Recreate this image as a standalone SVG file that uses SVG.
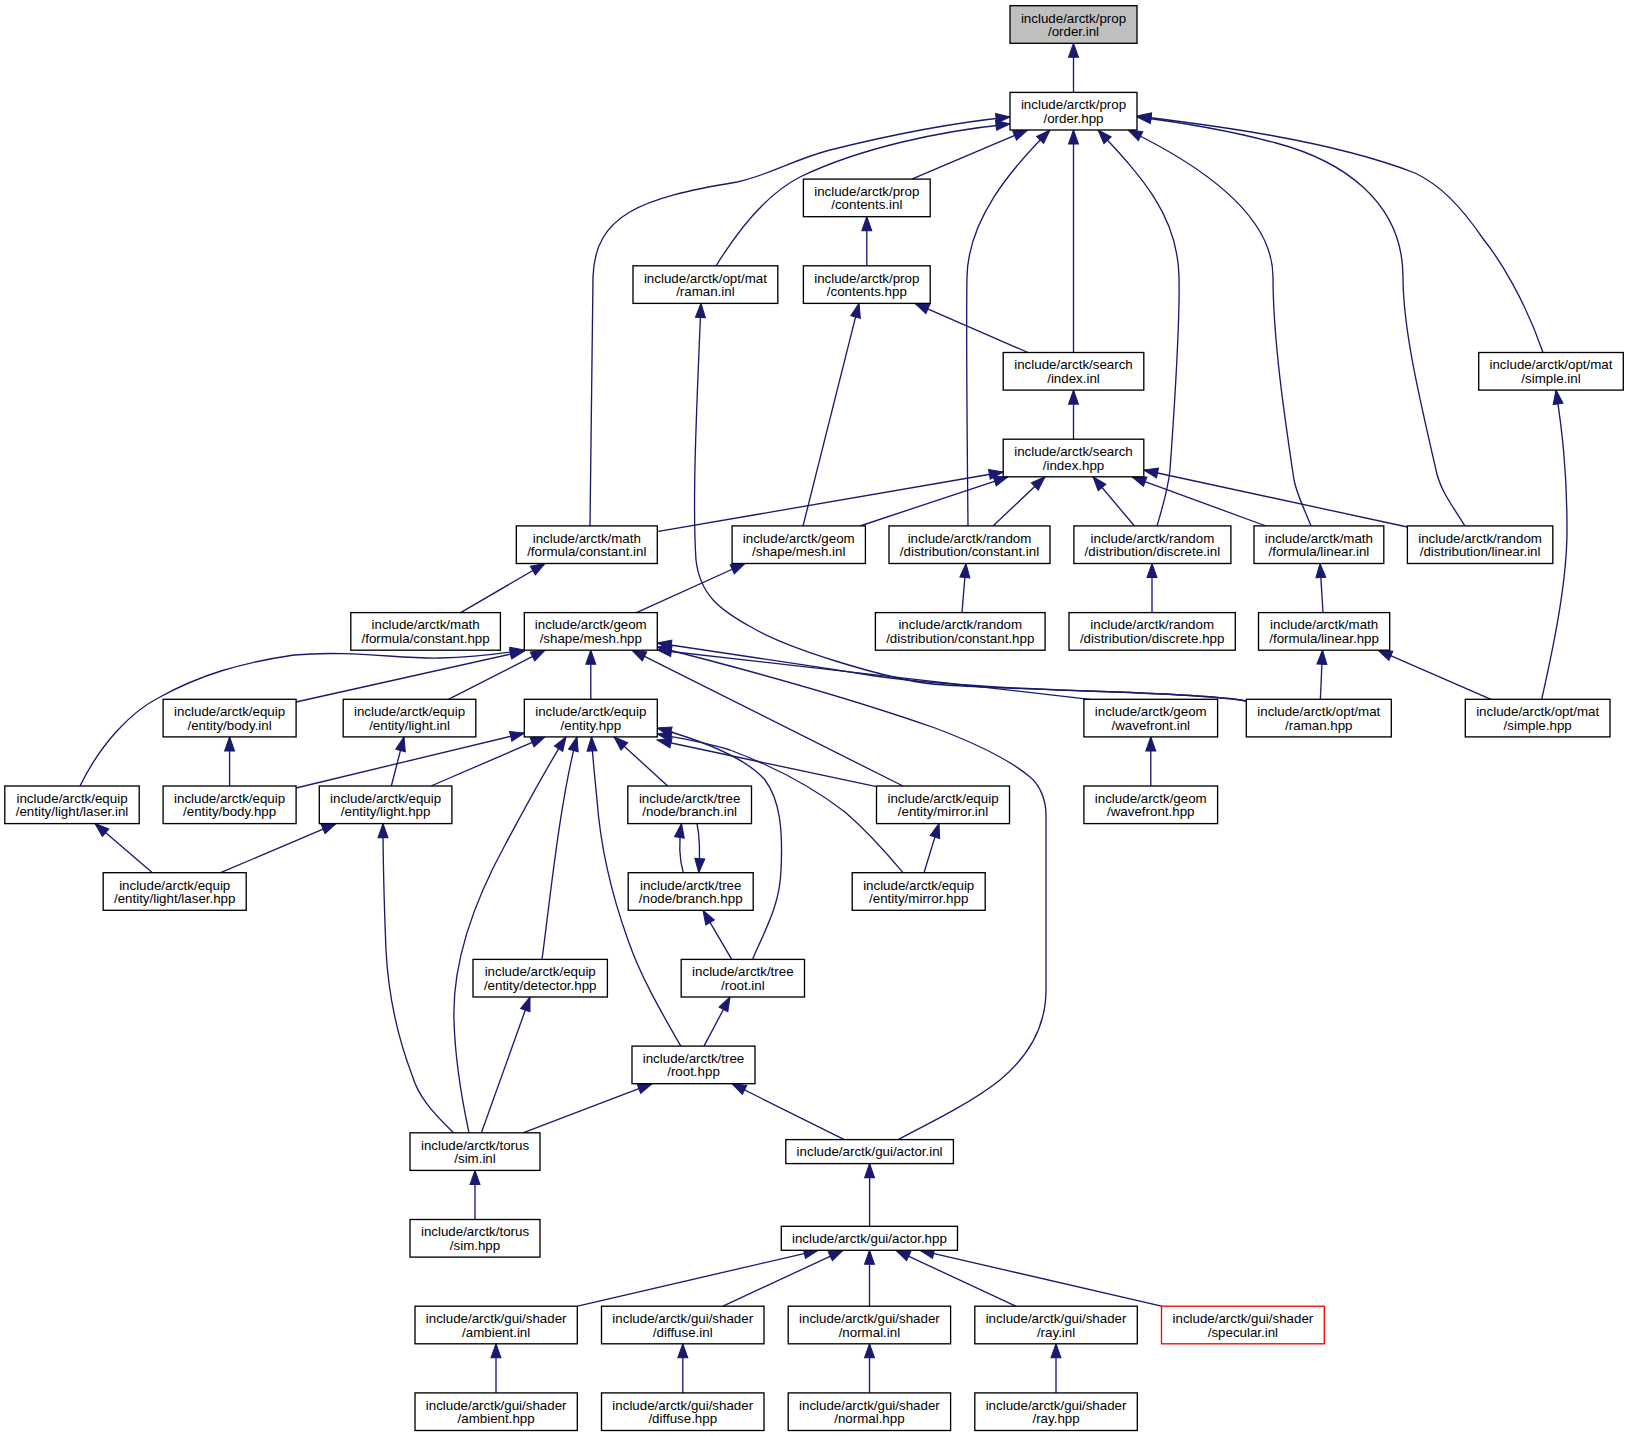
<svg xmlns="http://www.w3.org/2000/svg" width="1629" height="1436" viewBox="0 0 1629 1436">
<style>
.n rect{fill:#fff;stroke:#000;stroke-width:1.33}
.root rect{fill:#bfbfbf}
.red rect{stroke:#ff0000}
text{font-family:"Liberation Sans",Arial,Helvetica,sans-serif;font-size:13.33px;text-anchor:middle;fill:#000}
#connectors path{fill:none;stroke:#191970;stroke-width:1.33;marker-end:url(#ah)}
</style>
<defs>
<marker id="ah" markerUnits="userSpaceOnUse" markerWidth="14" markerHeight="10" viewBox="0 0 13.3 9.4" refX="13.3" refY="4.7" orient="auto" overflow="visible">
<path d="M0,0 L13.3,4.7 L0,9.4 z" fill="#191970" stroke="#191970" stroke-width="1"/>
</marker>
</defs>
<rect width="1629" height="1436" fill="#fff"/>
<g id="connectors">
<path d="M1073.5,92.4 L1073.5,43.3"/>
<path d="M590,526 C591,420 592,320 593,277 C595,215 640,198 737,182 C770,175 792,160 830,150 C890,135 950,123 1010,117"/>
<path d="M716,266 C735,235 765,195 800,177 C860,148 940,131 1010,124"/>
<path d="M911.8,179.1 L1027.5,130"/>
<path d="M968,526 C967,420 966,330 967,277 C968,220 1010,170 1050,130"/>
<path d="M1073.5,352.5 L1073.5,130"/>
<path d="M1157,526 C1163,505 1168,490 1170,470 C1175,400 1180,320 1179,277 C1178,215 1140,175 1098,130"/>
<path d="M1311,526 C1304,508 1297,495 1294,480 C1285,420 1273,340 1273,277 C1273,215 1200,165 1128,130"/>
<path d="M1465,526 C1452,505 1440,490 1436,470 C1420,400 1403,330 1403,277 C1403,200 1340,160 1276,143 C1220,128 1170,121 1137,117"/>
<path d="M1543,352.5 C1525,300 1500,260 1484,240 C1460,205 1440,185 1415,173 C1330,140 1210,125 1137,116"/>
<path d="M866.8,265.8 L866.8,216.7"/>
<path d="M803,526 L859,303.4"/>
<path d="M1028,352.5 L915,303.4"/>
<path d="M1246,701 C1225,697 1180,694 1086,691 C1000,688 940,686 924,683 C880,676 790,650 751,627 C720,610 700,595 696,560 C692,500 697,400 701,303.4"/>
<path d="M1541.7,699.3 C1555,640 1567,580 1567,530 C1567,470 1562,430 1556,390.1"/>
<path d="M1073.5,439.2 L1073.5,390.1"/>
<path d="M657,531.7 L1003.2,472"/>
<path d="M860,526 L1008,476.8"/>
<path d="M993,526 L1045,476.8"/>
<path d="M1134.5,526 L1093,476.8"/>
<path d="M1266,526 L1132,476.8"/>
<path d="M1407.4,527 L1143.8,470"/>
<path d="M460.6,612.6 L545,563.5"/>
<path d="M636.5,612.6 L745,563.5"/>
<path d="M962,612.6 L966,563.5"/>
<path d="M1152,612.6 L1152,563.5"/>
<path d="M1323,612.6 L1320,563.5"/>
<path d="M1320.4,699.3 L1322.5,650.2"/>
<path d="M1491,699.3 L1378,650.2"/>
<path d="M1150.8,786 L1150.8,736.9"/>
<path d="M80,786 C100,745 130,712 160,697 C200,675 240,663 294,655 C350,650 400,659 440,658 C480,657 505,653 524.3,650"/>
<path d="M296,702 L524.3,651"/>
<path d="M448.4,699.3 L545,650.2"/>
<path d="M590.8,699.3 L590.8,650.2"/>
<path d="M903,786 L632,650.2"/>
<path d="M1090,699.3 L657.3,650"/>
<path d="M1246,701 C1225,697 1180,694 1086,691 C1000,688 930,684 875,676 C800,664 720,652 657.3,643"/>
<path d="M898,1139.6 C940,1118 975,1100 1000,1080 C1030,1055 1046,1025 1046,990 L1046,815 C1046,800 1040,785 1030,777 C1010,760 980,745 935,728 C850,698 740,668 657.3,647"/>
<path d="M152.4,872.7 L95,823.6"/>
<path d="M229.6,786 L229.6,736.9"/>
<path d="M391.3,786 L404,736.9"/>
<path d="M220.6,872.7 L336,823.6"/>
<path d="M296,788 L524.3,733"/>
<path d="M431,786 L545,736.9"/>
<path d="M453.6,1132.8 C430,1110 418,1095 412,1075 C395,1030 388,990 386,950 C384,900 383,860 383,823.6"/>
<path d="M469,1132.8 C462,1100 455,1060 454,1020 C452,960 475,900 505,845 C525,808 545,770 566,736.9"/>
<path d="M542,959.4 C550,900 560,800 577,736.9"/>
<path d="M680.8,1046.1 C660,1010 640,975 628,940 C610,890 600,840 597,800 C594,770 592,750 591.5,736.9"/>
<path d="M667.7,786 L614,736.9"/>
<path d="M752.5,959.4 C765,930 780,905 781,870 C783,830 780,800 765,780 C745,757 700,740 657.3,728"/>
<path d="M876.5,786.7 L657.3,740"/>
<path d="M903,872.7 C880,845 860,825 845,812 C810,785 770,765 730,750 C705,742 680,738 657.3,734"/>
<path d="M683.3,872.7 C679,858 679,840 681.5,823.6"/>
<path d="M697,823.6 C700,838 700,856 698.8,872.7"/>
<path d="M731.7,959.4 L703,910.3"/>
<path d="M924,872.7 L939,823.6"/>
<path d="M704,1046.1 L730,997"/>
<path d="M481.4,1132.8 L530,997"/>
<path d="M522.9,1132.8 L652,1083.7"/>
<path d="M844.3,1139.6 L732,1083.7"/>
<path d="M475,1219.5 L475,1170.4"/>
<path d="M869.6,1226.3 L869.6,1163.6"/>
<path d="M577.6,1306.2 L818,1250.3"/>
<path d="M723,1306.2 L843,1250.3"/>
<path d="M869.5,1306.2 L869.5,1250.3"/>
<path d="M1015.7,1306.2 L896,1250.3"/>
<path d="M1161.5,1306.2 L920,1250.3"/>
<path d="M496,1392.9 L496,1343.8"/>
<path d="M682.8,1392.9 L682.8,1343.8"/>
<path d="M869.5,1392.9 L869.5,1343.8"/>
<path d="M1056,1392.9 L1056,1343.8"/>
</g>
<g id="n0" class="n root"><rect x="1010" y="5.7" width="127" height="37.6"/><text x="1073.5" y="22.5">include/arctk/prop</text><text x="1073.5" y="36">/order.inl</text></g>
<g id="n1" class="n"><rect x="1010" y="92.4" width="127" height="37.6"/><text x="1073.5" y="109.2">include/arctk/prop</text><text x="1073.5" y="122.7">/order.hpp</text></g>
<g id="n2" class="n"><rect x="803.4" y="179.1" width="126.8" height="37.6"/><text x="866.8" y="195.9">include/arctk/prop</text><text x="866.8" y="209.4">/contents.inl</text></g>
<g id="n3" class="n"><rect x="633" y="265.8" width="144.8" height="37.6"/><text x="705.4" y="282.6">include/arctk/opt/mat</text><text x="705.4" y="296.1">/raman.inl</text></g>
<g id="n4" class="n"><rect x="803.4" y="265.8" width="126.8" height="37.6"/><text x="866.8" y="282.6">include/arctk/prop</text><text x="866.8" y="296.1">/contents.hpp</text></g>
<g id="n5" class="n"><rect x="1003.2" y="352.5" width="140.6" height="37.6"/><text x="1073.5" y="369.3">include/arctk/search</text><text x="1073.5" y="382.8">/index.inl</text></g>
<g id="n6" class="n"><rect x="1478.7" y="352.5" width="144.6" height="37.6"/><text x="1551" y="369.3">include/arctk/opt/mat</text><text x="1551" y="382.8">/simple.inl</text></g>
<g id="n7" class="n"><rect x="1003.2" y="439.2" width="140.6" height="37.6"/><text x="1073.5" y="456">include/arctk/search</text><text x="1073.5" y="469.5">/index.hpp</text></g>
<g id="n8" class="n"><rect x="516.3" y="525.9" width="141" height="37.6"/><text x="586.8" y="542.7">include/arctk/math</text><text x="586.8" y="556.2">/formula/constant.inl</text></g>
<g id="n9" class="n"><rect x="732.1" y="525.9" width="133.3" height="37.6"/><text x="798.75" y="542.7">include/arctk/geom</text><text x="798.75" y="556.2">/shape/mesh.inl</text></g>
<g id="n10" class="n"><rect x="889" y="525.9" width="161" height="37.6"/><text x="969.5" y="542.7">include/arctk/random</text><text x="969.5" y="556.2">/distribution/constant.inl</text></g>
<g id="n11" class="n"><rect x="1073.9" y="525.9" width="157" height="37.6"/><text x="1152.4" y="542.7">include/arctk/random</text><text x="1152.4" y="556.2">/distribution/discrete.inl</text></g>
<g id="n12" class="n"><rect x="1254" y="525.9" width="129.8" height="37.6"/><text x="1318.9" y="542.7">include/arctk/math</text><text x="1318.9" y="556.2">/formula/linear.inl</text></g>
<g id="n13" class="n"><rect x="1407.4" y="525.9" width="145.4" height="37.6"/><text x="1480.1" y="542.7">include/arctk/random</text><text x="1480.1" y="556.2">/distribution/linear.inl</text></g>
<g id="n14" class="n"><rect x="350.8" y="612.6" width="149.6" height="37.6"/><text x="425.6" y="629.4">include/arctk/math</text><text x="425.6" y="642.9">/formula/constant.hpp</text></g>
<g id="n15" class="n"><rect x="524.3" y="612.6" width="133" height="37.6"/><text x="590.8" y="629.4">include/arctk/geom</text><text x="590.8" y="642.9">/shape/mesh.hpp</text></g>
<g id="n16" class="n"><rect x="875.4" y="612.6" width="169.7" height="37.6"/><text x="960.25" y="629.4">include/arctk/random</text><text x="960.25" y="642.9">/distribution/constant.hpp</text></g>
<g id="n17" class="n"><rect x="1069" y="612.6" width="166.3" height="37.6"/><text x="1152.15" y="629.4">include/arctk/random</text><text x="1152.15" y="642.9">/distribution/discrete.hpp</text></g>
<g id="n18" class="n"><rect x="1258.5" y="612.6" width="131.2" height="37.6"/><text x="1324.1" y="629.4">include/arctk/math</text><text x="1324.1" y="642.9">/formula/linear.hpp</text></g>
<g id="n19" class="n"><rect x="163.1" y="699.3" width="133" height="37.6"/><text x="229.6" y="716.1">include/arctk/equip</text><text x="229.6" y="729.6">/entity/body.inl</text></g>
<g id="n20" class="n"><rect x="343.2" y="699.3" width="132.6" height="37.6"/><text x="409.5" y="716.1">include/arctk/equip</text><text x="409.5" y="729.6">/entity/light.inl</text></g>
<g id="n21" class="n"><rect x="524.3" y="699.3" width="133" height="37.6"/><text x="590.8" y="716.1">include/arctk/equip</text><text x="590.8" y="729.6">/entity.hpp</text></g>
<g id="n22" class="n"><rect x="1083.9" y="699.3" width="133.7" height="37.6"/><text x="1150.75" y="716.1">include/arctk/geom</text><text x="1150.75" y="729.6">/wavefront.inl</text></g>
<g id="n23" class="n"><rect x="1246.3" y="699.3" width="145" height="37.6"/><text x="1318.8" y="716.1">include/arctk/opt/mat</text><text x="1318.8" y="729.6">/raman.hpp</text></g>
<g id="n24" class="n"><rect x="1465.3" y="699.3" width="144.7" height="37.6"/><text x="1537.65" y="716.1">include/arctk/opt/mat</text><text x="1537.65" y="729.6">/simple.hpp</text></g>
<g id="n25" class="n"><rect x="4.8" y="786" width="134.4" height="37.6"/><text x="72" y="802.8">include/arctk/equip</text><text x="72" y="816.3">/entity/light/laser.inl</text></g>
<g id="n26" class="n"><rect x="163.1" y="786" width="133" height="37.6"/><text x="229.6" y="802.8">include/arctk/equip</text><text x="229.6" y="816.3">/entity/body.hpp</text></g>
<g id="n27" class="n"><rect x="319.3" y="786" width="132.6" height="37.6"/><text x="385.6" y="802.8">include/arctk/equip</text><text x="385.6" y="816.3">/entity/light.hpp</text></g>
<g id="n28" class="n"><rect x="627.8" y="786" width="123.7" height="37.6"/><text x="689.65" y="802.8">include/arctk/tree</text><text x="689.65" y="816.3">/node/branch.inl</text></g>
<g id="n29" class="n"><rect x="876.5" y="786" width="133" height="37.6"/><text x="943" y="802.8">include/arctk/equip</text><text x="943" y="816.3">/entity/mirror.inl</text></g>
<g id="n30" class="n"><rect x="1083.9" y="786" width="133.7" height="37.6"/><text x="1150.75" y="802.8">include/arctk/geom</text><text x="1150.75" y="816.3">/wavefront.hpp</text></g>
<g id="n31" class="n"><rect x="103.2" y="872.7" width="143" height="37.6"/><text x="174.7" y="889.5">include/arctk/equip</text><text x="174.7" y="903">/entity/light/laser.hpp</text></g>
<g id="n32" class="n"><rect x="628.2" y="872.7" width="125" height="37.6"/><text x="690.7" y="889.5">include/arctk/tree</text><text x="690.7" y="903">/node/branch.hpp</text></g>
<g id="n33" class="n"><rect x="852.2" y="872.7" width="133" height="37.6"/><text x="918.7" y="889.5">include/arctk/equip</text><text x="918.7" y="903">/entity/mirror.hpp</text></g>
<g id="n34" class="n"><rect x="473" y="959.4" width="134.4" height="37.6"/><text x="540.2" y="976.2">include/arctk/equip</text><text x="540.2" y="989.7">/entity/detector.hpp</text></g>
<g id="n35" class="n"><rect x="681.2" y="959.4" width="123.3" height="37.6"/><text x="742.85" y="976.2">include/arctk/tree</text><text x="742.85" y="989.7">/root.inl</text></g>
<g id="n36" class="n"><rect x="632" y="1046.1" width="123" height="37.6"/><text x="693.5" y="1062.9">include/arctk/tree</text><text x="693.5" y="1076.4">/root.hpp</text></g>
<g id="n37" class="n"><rect x="410" y="1132.8" width="130" height="37.6"/><text x="475" y="1149.6">include/arctk/torus</text><text x="475" y="1163.1">/sim.inl</text></g>
<g id="n38" class="n"><rect x="785.8" y="1139.6" width="167.6" height="24"/><text x="869.6" y="1156.3">include/arctk/gui/actor.inl</text></g>
<g id="n39" class="n"><rect x="410" y="1219.5" width="130" height="37.6"/><text x="475" y="1236.3">include/arctk/torus</text><text x="475" y="1249.8">/sim.hpp</text></g>
<g id="n40" class="n"><rect x="781.3" y="1226.3" width="176.2" height="24"/><text x="869.4" y="1243">include/arctk/gui/actor.hpp</text></g>
<g id="n41" class="n"><rect x="415" y="1306.2" width="162.3" height="37.6"/><text x="496.15" y="1323">include/arctk/gui/shader</text><text x="496.15" y="1336.5">/ambient.inl</text></g>
<g id="n42" class="n"><rect x="601.5" y="1306.2" width="162.5" height="37.6"/><text x="682.75" y="1323">include/arctk/gui/shader</text><text x="682.75" y="1336.5">/diffuse.inl</text></g>
<g id="n43" class="n"><rect x="788.2" y="1306.2" width="162.4" height="37.6"/><text x="869.4" y="1323">include/arctk/gui/shader</text><text x="869.4" y="1336.5">/normal.inl</text></g>
<g id="n44" class="n"><rect x="974.8" y="1306.2" width="162.5" height="37.6"/><text x="1056.05" y="1323">include/arctk/gui/shader</text><text x="1056.05" y="1336.5">/ray.inl</text></g>
<g id="n45" class="n red"><rect x="1161.5" y="1306.2" width="162.8" height="37.6"/><text x="1242.9" y="1323">include/arctk/gui/shader</text><text x="1242.9" y="1336.5">/specular.inl</text></g>
<g id="n46" class="n"><rect x="415" y="1392.9" width="162.3" height="37.6"/><text x="496.15" y="1409.7">include/arctk/gui/shader</text><text x="496.15" y="1423.2">/ambient.hpp</text></g>
<g id="n47" class="n"><rect x="601.5" y="1392.9" width="162.5" height="37.6"/><text x="682.75" y="1409.7">include/arctk/gui/shader</text><text x="682.75" y="1423.2">/diffuse.hpp</text></g>
<g id="n48" class="n"><rect x="788.2" y="1392.9" width="162.4" height="37.6"/><text x="869.4" y="1409.7">include/arctk/gui/shader</text><text x="869.4" y="1423.2">/normal.hpp</text></g>
<g id="n49" class="n"><rect x="974.8" y="1392.9" width="162.5" height="37.6"/><text x="1056.05" y="1409.7">include/arctk/gui/shader</text><text x="1056.05" y="1423.2">/ray.hpp</text></g>
</svg>
